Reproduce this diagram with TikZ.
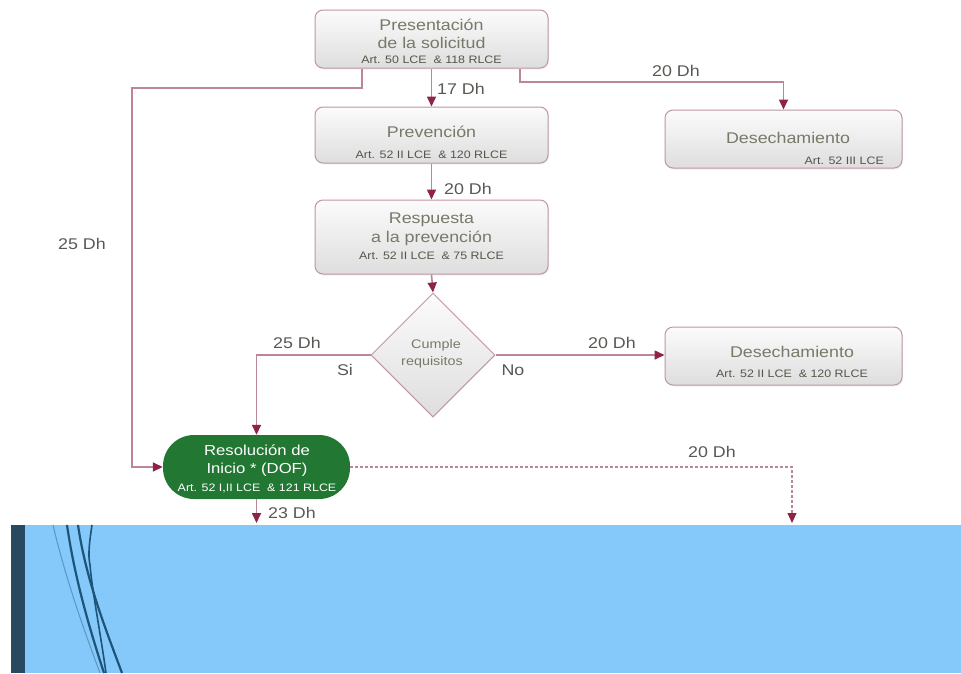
\documentclass[tikz,border=0pt]{standalone}
\usepackage{fontspec}
\setmainfont[FakeStretch=1.15]{Liberation Sans}
\usetikzlibrary{arrows.meta,shapes.geometric,shadows}
\definecolor{boxborder}{RGB}{192,150,164}
\definecolor{linec}{RGB}{188,134,152}
\definecolor{arrowc}{RGB}{140,36,66}
\definecolor{ttlc}{RGB}{118,122,104}
\definecolor{subc}{RGB}{84,86,72}
\definecolor{lblc}{RGB}{88,88,84}
\definecolor{greenc}{RGB}{34,120,50}
\definecolor{bluec}{RGB}{133,200,250}
\definecolor{stripc}{RGB}{40,74,96}
\definecolor{curvec}{RGB}{28,84,122}
\definecolor{curvelc}{RGB}{92,150,192}
\tikzset{
  box/.style={draw=boxborder, line width=1pt, rounded corners=8pt,
    top color=white!97!gray, bottom color=gray!26, inner sep=0pt,
    drop shadow={opacity=0.12, shadow xshift=1pt, shadow yshift=-1.5pt}},
  ttl/.style={text=ttlc, font=\fontsize{15.5}{17}\selectfont, inner sep=0pt},
  sub/.style={text=subc, font=\fontsize{10.8}{12}\selectfont, inner sep=0pt},
  wsub/.style={text=white, font=\fontsize{10.8}{12}\selectfont, inner sep=0pt},
  wttl/.style={text=white, font=\fontsize{14.5}{17}\selectfont, inner sep=0pt},
  lbl/.style={text=lblc, font=\fontsize{15.5}{18}\selectfont, inner sep=0pt},
  dtxt/.style={text=ttlc, font=\fontsize{12.5}{14}\selectfont, inner sep=0pt},
  conn/.style={draw=linec, line width=1.6pt, -{Triangle[length=10pt,width=9pt,color=arrowc]}},
  dconn/.style={draw=linec, line width=1.1pt, dash pattern=on 3pt off 2pt, -{Triangle[length=10pt,width=9pt,color=arrowc]}},
  curve/.style={draw=curvec, line width=2.2pt}
}
\begin{document}
\begin{tikzpicture}[x=1pt,y=-1pt]
\useasboundingbox (0,0) rectangle (961,673);
\fill[white] (0,0) rectangle (961,673);

% boxes
\node[box, minimum width=233pt, minimum height=58pt] (b1) at (431.5,39) {};
\node[box, minimum width=233pt, minimum height=56pt] (b2) at (431.5,135) {};
\node[box, minimum width=233pt, minimum height=74pt] (b3) at (431.5,237) {};
\node[box, minimum width=237pt, minimum height=58pt] (d1) at (783.5,139) {};
\node[box, minimum width=237pt, minimum height=58pt] (d2) at (783.5,356) {};
\node[draw=boxborder, line width=1pt, shape=diamond, aspect=1, minimum width=124pt, minimum height=124pt, inner sep=0pt,
  top color=white!97!gray, bottom color=gray!26] (dm) at (433,355) {};
\node[fill=greenc, rounded corners=31pt, minimum width=187pt, minimum height=64pt, inner sep=0pt] (r) at (256.5,467) {};

% texts
\node[ttl] (t1a) at (431.5,25) {Presentación};
\node[ttl] (t1b) at (431.5,43) {de la solicitud};
\node[sub] (t1c) at (431.5,60) {Art. 50 LCE \ \& 118 RLCE};
\node[ttl] (t2a) at (431.5,132) {Prevención};
\node[sub] (t2b) at (431.5,155) {Art. 52 II LCE \ \& 120 RLCE};
\node[ttl] (t3a) at (431.5,220) {Respuesta};
\node[ttl] (t3b) at (431.5,238) {a la prevención};
\node[sub] (t3c) at (431.5,256) {Art. 52 II LCE \ \& 75 RLCE};
\node[ttl] (t4a) at (788,138) {Desechamiento};
\node[sub, anchor=east] (t4b) at (884,161) {Art. 52 III LCE};
\node[ttl] (t5a) at (792,352) {Desechamiento};
\node[sub] (t5b) at (792,374) {Art. 52 II LCE \ \& 120 RLCE};
\node[dtxt] (t6a) at (436,345) {Cumple};
\node[dtxt] (t6b) at (432,362) {requisitos};
\node[wttl] (t7a) at (257,450) {Resolución de};
\node[wttl] (t7b) at (257,470) {Inicio * (DOF)};
\node[wsub] (t7c) at (257,488) {Art. 52 I,II LCE \ \& 121 RLCE};

% labels
\node[lbl] (l1) at (461,89) {17 Dh};
\node[lbl] (l2) at (468,189) {20 Dh};
\node[lbl] (l3) at (676,71) {20 Dh};
\node[lbl] (l4) at (82,244) {25 Dh};
\node[lbl] (l5) at (297,343) {25 Dh};
\node[lbl] (l6) at (345,370) {Si};
\node[lbl] (l7) at (513,370) {No};
\node[lbl] (l8) at (612,343) {20 Dh};
\node[lbl] (l9) at (292,513) {23 Dh};
\node[lbl] (l10) at (712,452) {20 Dh};

% coordinates
\coordinate (c1) at (132,88);
\coordinate (c2) at (520,82);
\coordinate (e1) at (256.5,523);
\coordinate (e2) at (792,523);

% connectors
\draw[conn] ([xshift=-69.5pt]b1.south) |- (c1) |- (r.west);
\draw[conn] ([xshift=88.5pt]b1.south) -- (c2) -| (d1.north);
\draw[conn] (b1.south) -- (b2.north);
\draw[conn] (b2.south) -- (b3.north);
\draw[conn] (b3.south) -- (dm.north);
\draw[conn] (dm.west) -| (r.north);
\draw[conn] (dm.east) -- (dm.east -| d2.west);
\draw[conn] (r.south) -- (e1);
\draw[dconn] (r.east) -| (e2);

% bottom band
\fill[bluec] (25,525) rectangle (961,673);
\fill[stripc] (11,525) rectangle (25,673);
\draw[draw=curvelc, line width=1pt] (53,525) .. controls (66,580) and (84,630) .. (100,673);
\draw[curve] (67,525) .. controls (75,580) and (90,630) .. (104,673);
\draw[curve] (78,525) .. controls (86,580) and (106,630) .. (122,673);
\draw[draw=curvec, line width=1.6pt] (92,525) .. controls (89,545) and (88,555) .. (90,565) .. controls (92,590) and (100,630) .. (106,673);
\end{tikzpicture}
\end{document}
